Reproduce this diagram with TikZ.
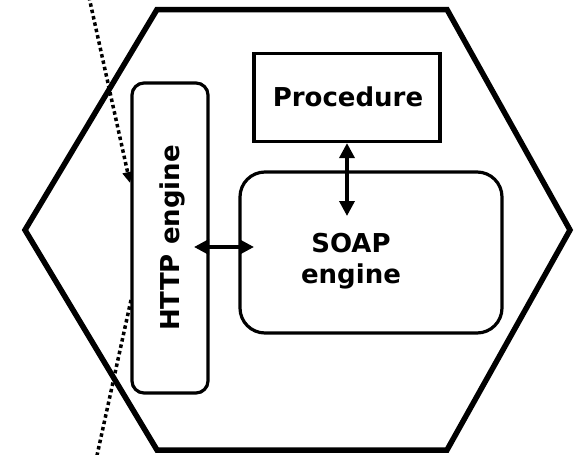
\documentclass[tikz,border=0pt]{standalone}
\usepackage{fontspec}
\setmainfont{DejaVu Sans}
\usetikzlibrary{arrows.meta}
\begin{document}
\begin{tikzpicture}[x=1pt,y=-1pt,
  hexa/.style={draw, line width=5.5pt, line join=miter},
  box/.style={draw, line width=3.2pt, fill=white, inner sep=0pt},
  lbl/.style={font=\fontsize{26}{31}\selectfont\bfseries, align=center, inner sep=0pt},
  dbl/.style={line width=3.5pt, {Triangle[length=15pt,width=15pt]}-{Triangle[length=15pt,width=15pt]}},
  dots/.style={line width=3.5pt, dash pattern=on 3.5pt off 3pt},
  dotarrow/.style={-{Triangle[length=11pt,width=10pt]}}
]
\useasboundingbox (0,0) rectangle (574,455);
% hexagon
\draw[hexa] (157,9.5) -- (447,9.5) -- (570,230) -- (447,450) -- (157,450) -- (25,230) -- cycle;
% dotted path
\coordinate (dtop) at (89,-3);
\coordinate (darr) at (130,183);
\coordinate (dmid) at (131,300);
\coordinate (dbot) at (96,460);
\draw[dots, dotarrow] (dtop) -- (darr);
\draw[dots] (dmid) -- (dbot);
% boxes
\node[box, minimum width=76pt, minimum height=310pt, rounded corners=12pt] (http) at (170,238) {};
\node[lbl, rotate=90] (httpl) at (172,238) {HTTP engine};
\node[box, minimum width=186pt, minimum height=88pt] (proc) at (347,97.5) {};
\node[lbl] (procl) at (348,97) {Procedure};
\node[box, minimum width=262pt, minimum height=161pt, rounded corners=25pt] (soap) at (371,252.5) {};
\node[lbl] (soapl) at (351,261) {SOAP\\engine};
% arrows
\coordinate (soaptop) at (347,216);
\draw[dbl] (proc.south) -- (soaptop);
\coordinate (httpin) at (194,247);
\coordinate (soapin) at (254,247);
\draw[dbl] (httpin) -- (soapin);
\end{tikzpicture}
\end{document}
